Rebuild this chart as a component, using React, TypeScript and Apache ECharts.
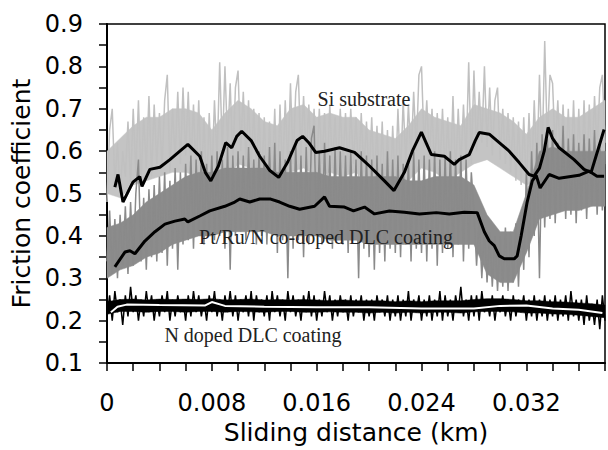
import React, { useEffect, useRef } from "react";
import * as echarts from "echarts";

// sampling step of the raw friction traces (km)
const STEP = 0.0002;
// step of the dense-band envelopes (km)
const BAND_STEP = 0.001;

// Si substrate raw trace (light gray)
const siSubstrate = [
  0.48, 0.65, 0.70, 0.52, 0.62, 0.50, 0.60, 0.54, 0.67, 0.52,
  0.70, 0.55, 0.72, 0.53, 0.68, 0.56, 0.73, 0.54, 0.71, 0.57,
  0.69, 0.56, 0.72, 0.78, 0.55, 0.70, 0.58, 0.74, 0.57, 0.75,
  0.59, 0.74, 0.56, 0.71, 0.54, 0.72, 0.52, 0.68, 0.50, 0.69,
  0.53, 0.72, 0.58, 0.81, 0.60, 0.80, 0.62, 0.76, 0.57, 0.75,
  0.79, 0.60, 0.74, 0.58, 0.72, 0.56, 0.70, 0.55, 0.69, 0.53,
  0.68, 0.50, 0.67, 0.52, 0.70, 0.49, 0.71, 0.54, 0.72, 0.56,
  0.76, 0.57, 0.74, 0.78, 0.59, 0.73, 0.58, 0.71, 0.56, 0.70,
  0.55, 0.70, 0.57, 0.69, 0.54, 0.71, 0.56, 0.68, 0.55, 0.70,
  0.56, 0.69, 0.55, 0.70, 0.57, 0.68, 0.54, 0.69, 0.55, 0.67,
  0.53, 0.68, 0.52, 0.66, 0.50, 0.67, 0.49, 0.65, 0.48, 0.66,
  0.51, 0.70, 0.54, 0.72, 0.57, 0.71, 0.58, 0.74, 0.60, 0.78,
  0.80, 0.61, 0.72, 0.58, 0.70, 0.56, 0.69, 0.55, 0.70, 0.54,
  0.68, 0.53, 0.73, 0.54, 0.70, 0.56, 0.71, 0.58, 0.81, 0.57,
  0.79, 0.60, 0.74, 0.62, 0.80, 0.61, 0.75, 0.59, 0.72, 0.75,
  0.58, 0.70, 0.57, 0.69, 0.55, 0.68, 0.53, 0.67, 0.52, 0.68,
  0.51, 0.69, 0.53, 0.72, 0.55, 0.78, 0.58, 0.86, 0.62, 0.78,
  0.76, 0.60, 0.72, 0.57, 0.71, 0.55, 0.70, 0.54, 0.72, 0.53,
  0.70, 0.52, 0.72, 0.54, 0.71, 0.56, 0.73, 0.60, 0.75, 0.78, 0.62,
];

// Pt/Ru/N co-doped DLC raw trace (dark gray)
const ptRuNDlc = [
  0.34, 0.46, 0.31, 0.44, 0.30, 0.45, 0.33, 0.47, 0.31, 0.48,
  0.33, 0.50, 0.58, 0.34, 0.49, 0.32, 0.51, 0.35, 0.52, 0.34,
  0.54, 0.36, 0.55, 0.33, 0.53, 0.37, 0.56, 0.32, 0.55, 0.38,
  0.57, 0.39, 0.59, 0.37, 0.58, 0.40, 0.60, 0.38, 0.57, 0.41,
  0.59, 0.39, 0.60, 0.40, 0.58, 0.37, 0.61, 0.32, 0.59, 0.40,
  0.60, 0.41, 0.59, 0.39, 0.61, 0.42, 0.58, 0.38, 0.60, 0.40,
  0.59, 0.38, 0.61, 0.40, 0.62, 0.36, 0.60, 0.39, 0.58, 0.30,
  0.60, 0.37, 0.62, 0.39, 0.59, 0.35, 0.61, 0.38, 0.63, 0.66,
  0.40, 0.60, 0.38, 0.62, 0.41, 0.59, 0.37, 0.61, 0.39, 0.60,
  0.38, 0.59, 0.36, 0.60, 0.39, 0.58, 0.30, 0.60, 0.37, 0.59,
  0.35, 0.58, 0.32, 0.59, 0.36, 0.57, 0.34, 0.60, 0.37, 0.58,
  0.36, 0.59, 0.35, 0.57, 0.38, 0.58, 0.34, 0.60, 0.37, 0.58,
  0.36, 0.59, 0.34, 0.58, 0.37, 0.60, 0.33, 0.58, 0.36, 0.59,
  0.37, 0.60, 0.35, 0.58, 0.38, 0.59, 0.34, 0.58, 0.37, 0.55,
  0.46, 0.33, 0.44, 0.30, 0.42, 0.29, 0.41, 0.28, 0.40, 0.27,
  0.40, 0.28, 0.42, 0.27, 0.41, 0.29, 0.43, 0.28, 0.45, 0.32,
  0.55, 0.35, 0.60, 0.40, 0.62, 0.30, 0.64, 0.42, 0.63, 0.44,
  0.65, 0.43, 0.62, 0.46, 0.66, 0.44, 0.63, 0.45, 0.64, 0.43,
  0.62, 0.46, 0.64, 0.44, 0.63, 0.47, 0.65, 0.45, 0.62, 0.46, 0.60,
];

// N doped DLC raw trace (black)
const nDopedDlc = [
  0.21, 0.26, 0.20, 0.27, 0.22, 0.25, 0.19, 0.26, 0.21, 0.28,
  0.22, 0.26, 0.20, 0.25, 0.21, 0.27, 0.22, 0.26, 0.20, 0.25,
  0.21, 0.26, 0.22, 0.27, 0.20, 0.25, 0.21, 0.26, 0.22, 0.25,
  0.20, 0.26, 0.21, 0.27, 0.22, 0.26, 0.21, 0.25, 0.20, 0.26,
  0.22, 0.27, 0.21, 0.25, 0.20, 0.26, 0.22, 0.27, 0.21, 0.26,
  0.20, 0.25, 0.22, 0.26, 0.21, 0.27, 0.20, 0.26, 0.22, 0.25,
  0.21, 0.26, 0.20, 0.27, 0.22, 0.26, 0.21, 0.25, 0.20, 0.27,
  0.22, 0.26, 0.21, 0.25, 0.20, 0.26, 0.22, 0.27, 0.21, 0.26,
  0.20, 0.25, 0.21, 0.27, 0.22, 0.26, 0.20, 0.25, 0.21, 0.26,
  0.22, 0.25, 0.20, 0.26, 0.21, 0.25, 0.22, 0.26, 0.20, 0.25,
  0.21, 0.25, 0.20, 0.26, 0.22, 0.25, 0.21, 0.26, 0.20, 0.25,
  0.21, 0.26, 0.20, 0.25, 0.21, 0.27, 0.20, 0.25, 0.22, 0.26,
  0.20, 0.25, 0.21, 0.26, 0.20, 0.25, 0.21, 0.27, 0.20, 0.26,
  0.21, 0.25, 0.20, 0.26, 0.22, 0.28, 0.21, 0.25, 0.20, 0.26,
  0.21, 0.26, 0.20, 0.27, 0.22, 0.25, 0.21, 0.26, 0.20, 0.25,
  0.22, 0.26, 0.21, 0.25, 0.20, 0.26, 0.21, 0.25, 0.22, 0.26,
  0.20, 0.25, 0.21, 0.26, 0.20, 0.25, 0.21, 0.26, 0.20, 0.25,
  0.21, 0.26, 0.20, 0.25, 0.21, 0.26, 0.20, 0.27, 0.21, 0.25,
  0.20, 0.25, 0.19, 0.26, 0.20, 0.24, 0.19, 0.25, 0.18, 0.26, 0.20,
];

// dense core of each noisy trace (lower / upper edge every 0.001 km)
const siCoreLow = [
  0.50, 0.49, 0.52, 0.53, 0.54, 0.55, 0.55, 0.54, 0.51, 0.53,
  0.57, 0.56, 0.53, 0.52, 0.55, 0.56, 0.54, 0.55, 0.54, 0.55,
  0.52, 0.50, 0.50, 0.53, 0.56, 0.55, 0.53, 0.55, 0.57, 0.58,
  0.56, 0.54, 0.52, 0.53, 0.56, 0.55, 0.52, 0.53, 0.57,
];
const siCoreHigh = [
  0.60, 0.63, 0.66, 0.68, 0.68, 0.70, 0.70, 0.69, 0.65, 0.69,
  0.72, 0.70, 0.67, 0.66, 0.70, 0.71, 0.68, 0.69, 0.68, 0.68,
  0.65, 0.64, 0.63, 0.66, 0.70, 0.68, 0.67, 0.66, 0.71, 0.70,
  0.69, 0.67, 0.64, 0.68, 0.70, 0.68, 0.68, 0.70, 0.72,
];
const ptCoreLow = [
  0.30, 0.32, 0.33, 0.35, 0.36, 0.38, 0.39, 0.40, 0.40, 0.41,
  0.41, 0.41, 0.41, 0.40, 0.40, 0.40, 0.40, 0.39, 0.39, 0.39,
  0.38, 0.38, 0.38, 0.38, 0.38, 0.38, 0.38, 0.38, 0.38, 0.31,
  0.29, 0.29, 0.36, 0.44, 0.45, 0.46, 0.46, 0.47, 0.47,
];
const ptCoreHigh = [
  0.42, 0.43, 0.45, 0.48, 0.50, 0.52, 0.54, 0.55, 0.55, 0.56,
  0.56, 0.56, 0.56, 0.55, 0.55, 0.55, 0.55, 0.54, 0.54, 0.54,
  0.54, 0.54, 0.54, 0.53, 0.53, 0.54, 0.54, 0.54, 0.52, 0.45,
  0.41, 0.41, 0.50, 0.60, 0.61, 0.60, 0.60, 0.60, 0.60,
];
const nCoreLow = [
  0.215, 0.222, 0.222, 0.22, 0.222, 0.222, 0.22, 0.222, 0.222, 0.22,
  0.222, 0.221, 0.22, 0.222, 0.222, 0.22, 0.22, 0.221, 0.22, 0.22,
  0.218, 0.22, 0.218, 0.22, 0.218, 0.22, 0.22, 0.218, 0.221, 0.222,
  0.222, 0.221, 0.218, 0.218, 0.216, 0.215, 0.213, 0.21, 0.207,
];
const nCoreHigh = [
  0.245, 0.25, 0.251, 0.249, 0.251, 0.25, 0.251, 0.25, 0.252, 0.249,
  0.25, 0.251, 0.249, 0.25, 0.249, 0.25, 0.249, 0.247, 0.249, 0.247,
  0.247, 0.247, 0.245, 0.247, 0.245, 0.247, 0.247, 0.247, 0.25, 0.252,
  0.252, 0.25, 0.247, 0.247, 0.245, 0.244, 0.242, 0.24, 0.237,
];

// smoothed (averaged) curves: [distance km, friction]
const siSubstrateAvg = [
  [0.0006, 0.515], [0.00084, 0.545], [0.00122, 0.48], [0.00198, 0.527], [0.0025, 0.54],
  [0.00267, 0.517], [0.00327, 0.557], [0.00404, 0.562], [0.0048, 0.58], [0.00556, 0.6],
  [0.00617, 0.616], [0.00708, 0.588], [0.0075, 0.55], [0.00792, 0.53], [0.0085, 0.565],
  [0.00906, 0.62], [0.00952, 0.608], [0.0099, 0.635], [0.01028, 0.647], [0.011, 0.625],
  [0.01165, 0.588], [0.0124, 0.555], [0.0131, 0.538], [0.0138, 0.575], [0.0145, 0.625],
  [0.01493, 0.635], [0.0154, 0.62], [0.01592, 0.597], [0.0166, 0.6], [0.01774, 0.608],
  [0.01889, 0.597], [0.0195, 0.58], [0.02003, 0.565], [0.02117, 0.53], [0.0219, 0.507],
  [0.02269, 0.55], [0.0233, 0.6], [0.02399, 0.645], [0.02475, 0.592], [0.02574, 0.588],
  [0.0265, 0.569], [0.02688, 0.58], [0.02764, 0.592], [0.0281, 0.625], [0.02841, 0.644],
  [0.02917, 0.64], [0.02993, 0.62], [0.03069, 0.6], [0.03145, 0.573], [0.03221, 0.545],
  [0.03259, 0.541], [0.033, 0.56], [0.03336, 0.6], [0.03366, 0.656], [0.034, 0.63],
  [0.0345, 0.608], [0.03564, 0.58], [0.0364, 0.557], [0.03694, 0.55], [0.03754, 0.611],
  [0.03793, 0.651],
];

const ptRuNDlcAvg = [
  [0.0006, 0.327], [0.00137, 0.362], [0.00175, 0.365], [0.00213, 0.358], [0.00289, 0.388],
  [0.00366, 0.41], [0.00442, 0.428], [0.00518, 0.435], [0.00594, 0.44], [0.00617, 0.433],
  [0.00708, 0.447], [0.00784, 0.459], [0.00899, 0.47], [0.00975, 0.48], [0.01013, 0.487],
  [0.01089, 0.48], [0.01165, 0.487], [0.01249, 0.487], [0.01317, 0.48], [0.01394, 0.47],
  [0.0147, 0.463], [0.01584, 0.47], [0.0166, 0.492], [0.01698, 0.47], [0.01812, 0.468],
  [0.01881, 0.459], [0.01965, 0.468], [0.02041, 0.452], [0.02155, 0.459], [0.02269, 0.456],
  [0.02384, 0.452], [0.02513, 0.455], [0.02612, 0.452], [0.02726, 0.456], [0.02825, 0.455],
  [0.02879, 0.41], [0.02917, 0.388], [0.02955, 0.377], [0.02993, 0.353], [0.03031, 0.346],
  [0.03107, 0.346], [0.0313, 0.353], [0.0316, 0.4], [0.03206, 0.48], [0.03245, 0.53],
  [0.03275, 0.543], [0.03305, 0.513], [0.03374, 0.545], [0.0345, 0.536], [0.03602, 0.543],
  [0.03678, 0.553], [0.03739, 0.541], [0.03793, 0.541],
];

const nDopedDlcAvg = [
  [0.0003, 0.22], [0.0008, 0.233], [0.0015, 0.238], [0.004, 0.237], [0.0075, 0.236],
  [0.008, 0.244], [0.009, 0.235], [0.012, 0.233], [0.016, 0.232], [0.02, 0.232],
  [0.024, 0.229], [0.028, 0.229], [0.03, 0.235], [0.032, 0.236], [0.034, 0.229],
  [0.036, 0.226], [0.0378, 0.218],
];

const X_LABEL_EVERY = 0.008;
const Y_LABEL_EVERY = 0.1;

const toPairs = (vals: number[], step: number) => vals.map((v, i) => [+(i * step).toFixed(5), v]);

const SANS = "DejaVu Sans";
const SERIF = "Liberation Serif";

// filled band between two envelopes, drawn through the axes' scales
function bandSeries(name: string, low: number[], high: number[], color: string, z: number) {
  return {
    name,
    type: "custom",
    silent: true,
    z,
    data: [[0, low[0]]],
    renderItem: (_params: any, api: any) => {
      const lower = low.map((v, i) => api.coord([i * BAND_STEP, v]));
      const upper = high.map((v, i) => api.coord([i * BAND_STEP, v])).reverse();
      return {
        type: "polygon",
        shape: { points: [...lower, ...upper] },
        style: { fill: color, stroke: color, lineWidth: 0.5 },
      };
    },
  };
}

export default function App() {
  const ref = useRef<HTMLDivElement>(null);

  useEffect(() => {
    if (!ref.current) return;
    const chart = echarts.init(ref.current, null, { renderer: "svg" });
    chart.setOption({
      animation: false,
      backgroundColor: "#fff",
      grid: {
        left: 107,
        top: 24,
        width: 499.5,
        height: 341,
        show: true,
        borderColor: "#000",
        borderWidth: 1.5,
        backgroundColor: "transparent",
      },
      xAxis: {
        type: "value",
        min: 0,
        max: 0.038,
        interval: 0.002,
        axisLine: { show: true, onZero: false, lineStyle: { color: "#000", width: 2 } },
        axisTick: { show: true, length: 8, lineStyle: { color: "#000", width: 1.5 } },
        splitLine: { show: false },
        axisLabel: {
          margin: 28,
          fontSize: 24,
          color: "#000",
          fontFamily: SANS,
          formatter: (v: number) => {
            const k = Math.round(v / X_LABEL_EVERY * 1000) / 1000;
            if (Math.abs(k - Math.round(k)) > 1e-6) return "";
            return v === 0 ? "0" : v.toFixed(3);
          },
        },
        name: "Sliding distance (km)",
        nameLocation: "middle",
        nameGap: 44,
        nameTextStyle: { fontSize: 25, color: "#000", fontFamily: SANS },
      },
      yAxis: {
        type: "value",
        min: 0.1,
        max: 0.9,
        interval: 0.05,
        axisLine: { show: true, lineStyle: { color: "#000", width: 2 } },
        axisTick: { show: true, length: 8, lineStyle: { color: "#000", width: 1.5 } },
        splitLine: { show: false },
        axisLabel: {
          margin: 24,
          fontSize: 24,
          color: "#000",
          fontFamily: SANS,
          formatter: (v: number) => {
            const k = Math.round(v / Y_LABEL_EVERY * 1000) / 1000;
            if (Math.abs(k - Math.round(k)) > 1e-6) return "";
            return v.toFixed(1);
          },
        },
        name: "Friction coefficient",
        nameLocation: "middle",
        nameGap: 70,
        nameTextStyle: { fontSize: 25, color: "#000", fontFamily: SANS },
      },
      series: [
        bandSeries("Si substrate core", siCoreLow, siCoreHigh, "#c4c4c4", 1),
        {
          name: "Si substrate",
          type: "line",
          data: toPairs(siSubstrate, STEP),
          showSymbol: false,
          lineStyle: { color: "#c0c0c0", width: 1.5 },
          z: 1,
        },
        bandSeries("Pt/Ru/N core", ptCoreLow, ptCoreHigh, "#8c8c8c", 2),
        {
          name: "Pt/Ru/N co-doped DLC coating",
          type: "line",
          data: toPairs(ptRuNDlc, STEP),
          showSymbol: false,
          lineStyle: { color: "#8a8a8a", width: 1.5 },
          z: 2,
        },
        bandSeries("N doped core", nCoreLow, nCoreHigh, "#000", 3),
        {
          name: "N doped DLC coating",
          type: "line",
          data: toPairs(nDopedDlc, STEP),
          showSymbol: false,
          lineStyle: { color: "#000", width: 1.5 },
          z: 3,
        },
        {
          name: "Si substrate avg",
          type: "line",
          data: siSubstrateAvg,
          showSymbol: false,
          lineStyle: { color: "#000", width: 3 },
          z: 4,
        },
        {
          name: "Pt/Ru/N avg",
          type: "line",
          data: ptRuNDlcAvg,
          showSymbol: false,
          lineStyle: { color: "#000", width: 3 },
          z: 5,
        },
        {
          name: "N doped avg",
          type: "line",
          data: nDopedDlcAvg,
          showSymbol: false,
          lineStyle: { color: "#fff", width: 2 },
          z: 6,
        },
      ],
      graphic: [
        {
          type: "text",
          x: 364,
          y: 99,
          z: 100,
          style: {
            text: "Si substrate",
            fontSize: 20,
            fontFamily: SERIF,
            fill: "#222",
            align: "center",
            verticalAlign: "middle",
          },
        },
        {
          type: "text",
          x: 326,
          y: 237,
          z: 100,
          style: {
            text: "Pt/Ru/N co-doped DLC coating",
            fontSize: 20,
            fontFamily: SERIF,
            fill: "#222",
            align: "center",
            verticalAlign: "middle",
          },
        },
        {
          type: "text",
          x: 253,
          y: 335,
          z: 100,
          style: {
            text: "N doped DLC coating",
            fontSize: 20,
            fontFamily: SERIF,
            fill: "#222",
            align: "center",
            verticalAlign: "middle",
          },
        },
      ],
    });
    return () => chart.dispose();
  }, []);

  return (
    <div
      ref={ref}
      style={{ position: "fixed", left: 0, top: 0, width: 608, height: 450, background: "#fff" }}
    />
  );
}
